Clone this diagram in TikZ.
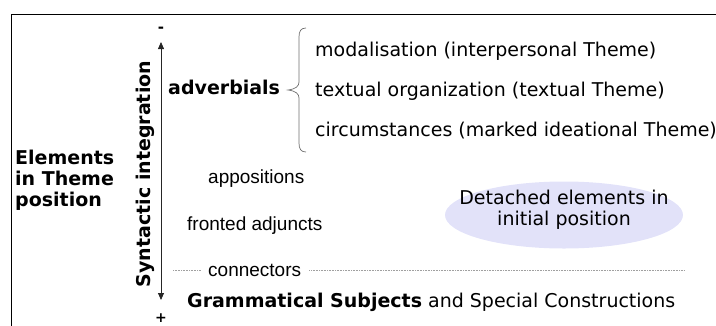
\documentclass[tikz,border=0pt]{standalone}
\usepackage{fontspec}
\setmainfont{DejaVu Sans}
\newfontfamily\arialfont{Liberation Sans}
\usetikzlibrary{arrows.meta,shapes.geometric}
\definecolor{ellfill}{RGB}{226,226,249}
\definecolor{dotgray}{RGB}{160,160,160}
\definecolor{bracegray}{RGB}{110,110,110}
\begin{document}
\begin{tikzpicture}[x=1pt,y=-1pt,
  txt/.style={font=\fontsize{19}{21}\selectfont, inner sep=0pt, anchor=base west},
  btxt/.style={font=\fontsize{19}{21}\selectfont\bfseries, inner sep=0pt},
  atxt/.style={font=\arialfont\fontsize{19}{21}\selectfont, inner sep=0pt, anchor=base west},
  dotline/.style={draw=dotgray, line width=0.8pt, dash pattern=on 0.8pt off 0.8pt},
  axis/.style={draw=black!85, line width=0.8pt, {Triangle[length=7pt,width=6pt]}-{Triangle[length=7pt,width=6pt]}},
  bracestyle/.style={draw=bracegray, line width=0.7pt},
  detached/.style={ellipse, fill=ellfill, draw=none, minimum width=238pt, minimum height=67pt, inner sep=0pt}
]
\path[use as bounding box] (0,0) rectangle (716,325);
% frame
\draw[line width=1pt] (11,326) -- (11,14) -- (717,14);

% axis
\node[btxt, anchor=base, font=\fontsize{15}{15}\selectfont\bfseries] (minus) at (161,32) {-};
\node[btxt, anchor=base, font=\fontsize{14}{14}\selectfont\bfseries] (plus) at (161,322) {+};
\coordinate (atop) at (161,42);
\coordinate (abot) at (161,300);
\draw[axis] (atop) -- (abot);
\node[btxt, rotate=90, anchor=base] (syn) at (150,174) {Syntactic integration};

% left label
\node[btxt, align=left, anchor=north west] (elem) at (15,150) {Elements\\in Theme\\position};

% adverbials and brace
\node[btxt, anchor=base west] (adv) at (168,94) {adverbials};
\coordinate (btop) at (306,28);
\coordinate (btip) at (288,90);
\coordinate (bbot) at (306,152);
\draw[bracestyle] (btop) .. controls (301,28) and (299,31) .. (299,37)
  -- (299,82) .. controls (299,86) and (296,89) .. (btip)
  .. controls (296,91) and (299,94) .. (299,98)
  -- (299,143) .. controls (299,149) and (301,152) .. (bbot);

\node[txt] (mod) at (315,56) {modalisation (interpersonal Theme)};
\node[txt] (textual) at (315,96) {textual organization (textual Theme)};
\node[txt] (circ) at (315,136) {circumstances (marked ideational Theme)};

% other elements
\node[atxt] (app) at (208,183) {appositions};
\node[atxt] (front) at (187,230) {fronted adjuncts};
\node[atxt] (conn) at (208,276) {connectors};
\coordinate (dl) at (173,270);
\coordinate (dr) at (684,270);
\draw[dotline] (dl) -- ([xshift=-7pt]conn.west |- dl);
\draw[dotline] ([xshift=8pt]conn.east |- dr) -- (dr);
\node[txt] (gram) at (187,307) {\textbf{Grammatical Subjects} and Special Constructions};

% detached
\node[detached] (det) at (564,215) {};
\node[font=\fontsize{19}{21}\selectfont, align=center, inner sep=0pt] (dettxt) at (564,210) {Detached elements in\\initial position};
\end{tikzpicture}
\end{document}
